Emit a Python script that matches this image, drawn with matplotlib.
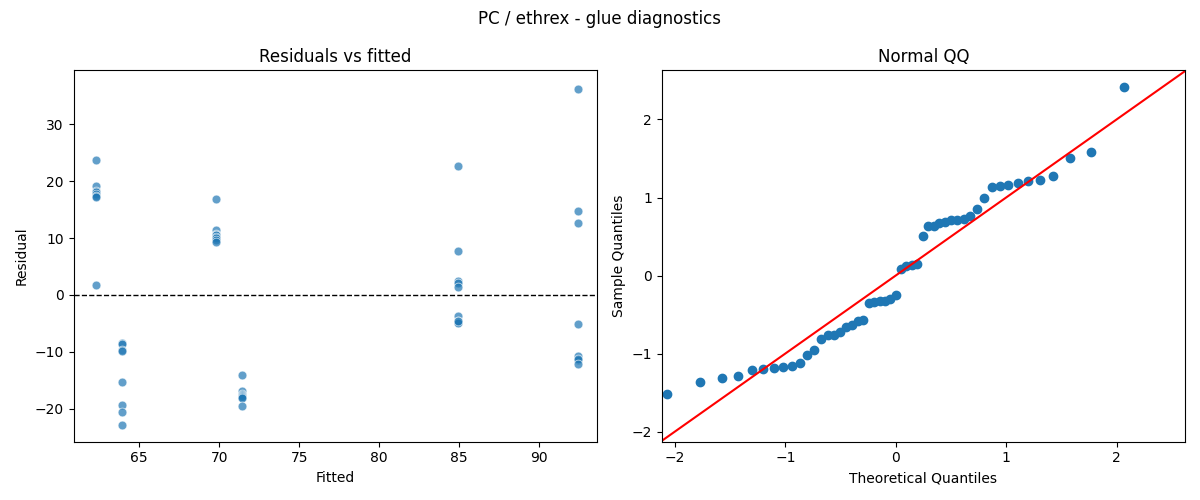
import math
import numpy as np
import matplotlib
matplotlib.use("Agg")
import matplotlib.pyplot as plt

fitted_levels = [62.3, 63.9, 69.8, 71.4, 84.9, 92.4]
residuals_by_level = [
    [23.7, 19.2, 18.3, 18.1, 17.7, 17.4, 17.2, 1.8],
    [-8.5, -8.7, -9.6, -9.9, -15.3, -19.3, -20.5, -22.8],
    [16.9, 11.4, 10.8, 10.6, 10.6, 10.2, 10.0, 9.6, 9.4],
    [-14.0, -16.8, -17.4, -17.5, -17.8, -18.0, -18.1, -19.6],
    [22.6, 7.8, 2.4, 2.1, 1.4, -3.7, -4.5, -4.8, -5.0, -4.6],
    [36.3, 14.8, 12.7, -5.1, -10.8, -11.4, -11.3, -12.1],
]
qq_sample = [-1.52, -1.37, -1.31, -1.29, -1.21, -1.20, -1.19, -1.17, -1.16, -1.12,
             -1.02, -0.95, -0.81, -0.76, -0.76, -0.72, -0.66, -0.64, -0.58, -0.57,
             -0.35, -0.34, -0.33, -0.32, -0.30, -0.25, 0.09, 0.12, 0.14, 0.15,
             0.51, 0.63, 0.64, 0.67, 0.68, 0.71, 0.71, 0.72, 0.76, 0.85,
             0.99, 1.13, 1.15, 1.16, 1.18, 1.21, 1.22, 1.28, 1.51, 1.58, 2.42]

def norm_ppf(p):
    lo, hi = -10.0, 10.0
    for _ in range(100):
        mid = (lo + hi) / 2
        if 0.5 * (1 + math.erf(mid / math.sqrt(2))) < p:
            lo = mid
        else:
            hi = mid
    return (lo + hi) / 2

n = len(qq_sample)
theo = [norm_ppf(i / (n + 1)) for i in range(1, n + 1)]

fig, (ax1, ax2) = plt.subplots(1, 2, figsize=(12, 5), dpi=100)
fig.suptitle("PC / ethrex - glue diagnostics")

xs, ys = [], []
for f, rs in zip(fitted_levels, residuals_by_level):
    xs += [f] * len(rs)
    ys += rs
ax1.scatter(xs, ys, s=40, color="#1f77b4", alpha=0.7, edgecolors="white", linewidths=0.6)
ax1.axhline(0, color="black", linestyle="--", linewidth=1)
ax1.set_xlim(60.9, 93.6)
ax1.set_ylim(-25.8, 39.5)
ax1.set_title("Residuals vs fitted")
ax1.set_xlabel("Fitted")
ax1.set_ylabel("Residual")

ax2.plot(theo, sorted(qq_sample), "o", color="#1f77b4", markersize=6)
xl, yl = (-2.12, 2.62), (-2.13, 2.63)
lo, hi = min(xl[0], yl[0]), max(xl[1], yl[1])
ax2.plot([lo, hi], [lo, hi], color="red")
ax2.set_xlim(*xl)
ax2.set_ylim(*yl)
ax2.set_title("Normal QQ")
ax2.set_xlabel("Theoretical Quantiles")
ax2.set_ylabel("Sample Quantiles")

fig.tight_layout()
fig.savefig("out.png")
